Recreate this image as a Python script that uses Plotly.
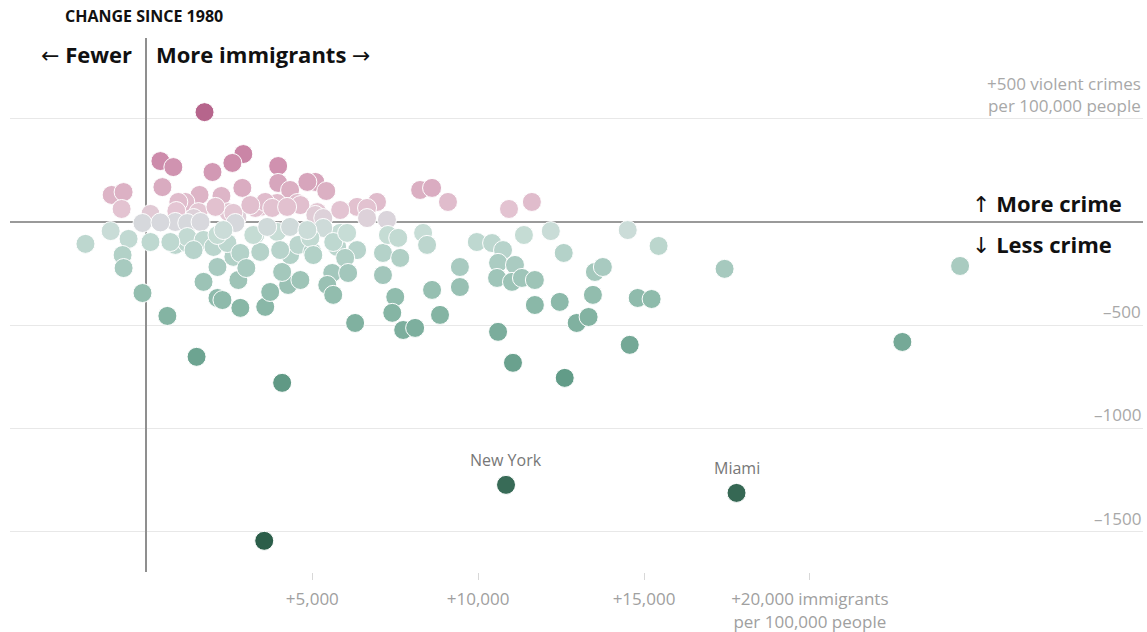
import plotly.graph_objects as go

# ---- data (change since 1980, per 100,000 people) ----
immigrants_change = [
    1750, 420, 810, 2920, 2590, 1990, 3970, 480, 2890, 3970, 5090, 5420, -1050, -690, -750,
    1600, 2260, 1170, 120, 4330, 4550, 3940, 3430, 3280, 2740, 2470, 1570, 5150, 6350, 1420,
    4850, 4640, 5090, 5330, 6950, 6650, 6650, 7250, 8250, 8610, 9090, 10930, 11620, 960, 3580,
    3790, 4240, 2620, 900, 2080, 3130, 5840,
    -120, 870, 1230, 1630, 2680, 420,
    -1840, -1080, -540, -720, -690, 120, -120, 630, 870, 1230, 1720, 2140, 2140, 2830, 2770,
    3580, 3730, 4270, 4090, 3280, 3940, 4330, 3430, 2620, 2230, 4580, 5000, 5750, 5840, 5330,
    4940, 5630, 6050, 6350, 5990, 5600, 5450, 5630, 6080, 5030, 4640, 6290, 7130, 7130, 7280,
    7590, 7650, 8340, 8460, 7500, 7410, 7740, 8100, 8610, 8850, 9450, 9450, 9960, 10420, 10750,
    10600, 11110, 10570, 11020, 11320, 11710, 11710, 12460, 10600, 11380, 12190, 12580, 12970, 13330, 13460,
    13520, 13760, 14510, 14810, 15230, 15440, 14570, 17430, 24530, 22790, 12610, 11050, 17790, 10840, 3550,
    4090, 1510, 1230, 1720, 3220, 3640, 4330, 4850, 1420, 2020, 2440, 2830, 4030, 720, 2140,
    2320, 3010, 2290,
]
crime_change = [
    532, 295, 266, 329, 286, 242, 271, 169, 165, 189, 194, 150, 131, 145, 63,
    131, 126, 97, 39, 155, 92, 92, 73, 68, 24, 48, 48, 48, 73, 19,
    194, 82, 34, 19, 97, 68, 19, 10, 155, 165, 97, 63, 97, 97, 97,
    68, 73, 44, 53, 73, 82, 58,
    -5, 0, -5, 0, -5, -2,
    -106, -44, -82, -160, -223, -97, -344, -455, -111, -102, -290, -218, -368, -416, -281,
    -411, -339, -305, -242, -63, -48, -160, -145, -169, -87, -111, -145, -121, -53, -29,
    -77, -97, -53, -136, -174, -247, -305, -353, -247, -160, -281, -489, -257, -150, -63,
    -77, -174, -53, -111, -363, -440, -523, -513, -329, -450, -218, -315, -97, -102, -136,
    -198, -208, -271, -290, -271, -281, -402, -387, -532, -63, -44, -150, -489, -460, -353,
    -242, -218, -39, -368, -373, -116, -595, -227, -213, -581, -755, -682, -1312, -1273, -1544,
    -779, -653, -73, -87, -63, -24, -24, -39, -136, -121, -102, -150, -136, -97, -63,
    -39, -223, -378,
]

label_names = ["New York", "Miami"]
label_x = [10840, 17790]
label_y = [-1273, -1312]

x_tick_vals = [5000, 10000, 15000, 20000]
x_tick_text = ["+5,000", "+10,000", "+15,000", "+20,000 immigrants<br>per 100,000 people"]
y_grid_vals = [500, -500, -1000, -1500]
y_tick_text = ["+500 violent crimes<br>per 100,000 people", "\u2013500", "\u20131000", "\u20131500"]

FONT = "Open Sans, Liberation Sans, Arial, sans-serif"
ARROW = "<span style='font-family:DejaVu Sans;font-weight:normal'>{}</span>"

colorscale = [
    [0.0, "rgb(44,94,74)"],
    [0.119, "rgb(54,104,84)"],
    [0.381, "rgb(98,156,136)"],
    [0.548, "rgb(138,184,168)"],
    [0.643, "rgb(171,204,194)"],
    [0.714, "rgb(199,221,214)"],
    [0.738, "rgb(216,216,221)"],
    [0.762, "rgb(228,198,211)"],
    [0.810, "rgb(219,176,195)"],
    [0.881, "rgb(205,138,170)"],
    [1.0, "rgb(180,98,138)"],
]

fig = go.Figure()
fig.add_trace(go.Scatter(
    x=immigrants_change,
    y=crime_change,
    mode="markers",
    marker=dict(
        size=19,
        color=crime_change,
        colorscale=colorscale,
        cmin=-1550,
        cmax=550,
        line=dict(color="white", width=1),
    ),
    hoverinfo="x+y",
    showlegend=False,
))

annotations = []
# y-axis labels (right aligned above gridlines)
for v, t in zip(y_grid_vals, y_tick_text):
    annotations.append(dict(
        x=1, xref="paper", xanchor="right", y=v, yref="y", yanchor="bottom",
        yshift=0, text=t, showarrow=False, align="right",
        font=dict(family=FONT, size=17, color="#a8a8a8"),
    ))
# city labels
for n, lx, ly in zip(label_names, label_x, label_y):
    annotations.append(dict(
        x=lx, y=ly, xref="x", yref="y", text=n, showarrow=False, yshift=25,
        font=dict(family=FONT, size=16, color="#777777"),
    ))
# header texts
annotations += [
    dict(x=(63 - 10) / 1133, y=(572 - 16) / 534, xref="paper", yref="paper",
         xanchor="left", yanchor="middle", text="<b>CHANGE SINCE 1980</b>",
         showarrow=False, font=dict(family=FONT, size=16, color="#111")),
    dict(x=0, xref="x", xshift=-12, y=(572 - 54) / 534, yref="paper",
         xanchor="right", yanchor="middle",
         text="<b>" + ARROW.format("\u2190") + " Fewer</b>",
         showarrow=False, font=dict(family=FONT, size=22, color="#111")),
    dict(x=0, xref="x", xshift=8, y=(572 - 54) / 534, yref="paper",
         xanchor="left", yanchor="middle",
         text="<b>More immigrants " + ARROW.format("\u2192") + "</b>",
         showarrow=False, font=dict(family=FONT, size=22, color="#111")),
    dict(x=(970 - 10) / 1133, xref="paper", y=93, yref="y",
         xanchor="left", yanchor="middle",
         text="<b>" + ARROW.format("\u2191") + " More crime</b>",
         showarrow=False, font=dict(family=FONT, size=22, color="#111")),
    dict(x=(970 - 10) / 1133, xref="paper", y=-105, yref="y",
         xanchor="left", yanchor="middle",
         text="<b>" + ARROW.format("\u2193") + " Less crime</b>",
         showarrow=False, font=dict(family=FONT, size=22, color="#111")),
]

fig.update_layout(
    width=1147, height=632, autosize=False,
    margin=dict(l=10, r=4, t=38, b=60, pad=0),
    paper_bgcolor="white", plot_bgcolor="white",
    annotations=annotations,
    xaxis=dict(
        range=[-4115, 30045], showgrid=False, zeroline=True,
        zerolinecolor="#8f8f8f", zerolinewidth=1.5, showline=False,
        tickmode="array", tickvals=x_tick_vals, ticktext=x_tick_text,
        ticks="outside", ticklen=7, tickcolor="#d8d8d8", tickwidth=1,
        ticklabelstandoff=5, automargin=False,
        tickfont=dict(family=FONT, size=17, color="#a0a0a0"),
        fixedrange=True,
    ),
    yaxis=dict(
        range=[-1695, 891], showgrid=True, gridcolor="#e8e8e8", gridwidth=1,
        tickmode="array", tickvals=y_grid_vals, showticklabels=False,
        zeroline=True, zerolinecolor="#9a9a9a", zerolinewidth=2, showline=False,
        automargin=False, fixedrange=True,
    ),
)

fig.write_html(
    "out.html",
    config={"displayModeBar": False},
    post_script="document.body.style.margin='0';document.body.style.overflow='hidden';",
)
